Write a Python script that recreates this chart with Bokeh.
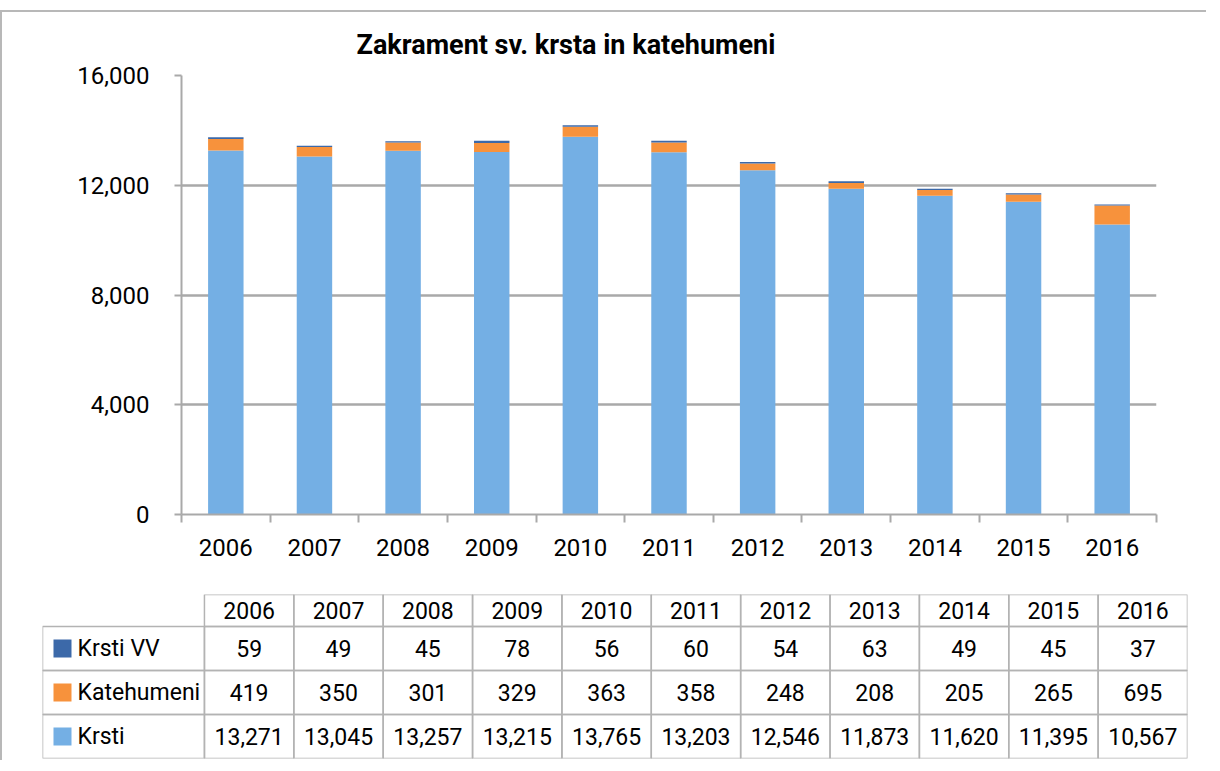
import numpy as np
from bokeh.plotting import figure
from bokeh.models import Range1d, FixedTicker, NumeralTickFormatter, ColumnDataSource
from bokeh.core.properties import value
from bokeh.embed import file_html
from bokeh.resources import INLINE

years = ["2006", "2007", "2008", "2009", "2010", "2011", "2012", "2013", "2014", "2015", "2016"]
krsti_vv = [59, 49, 45, 78, 56, 60, 54, 63, 49, 45, 37]
katehumeni = [419, 350, 301, 329, 363, 358, 248, 208, 205, 265, 695]
krsti = [13271, 13045, 13257, 13215, 13765, 13203, 12546, 11873, 11620, 11395, 10567]
series_names = ["Krsti VV", "Katehumeni", "Krsti"]
y_ticks = [0, 4000, 8000, 12000, 16000]
title_text = "Zakrament sv. krsta in katehumeni"

C_VV = "#3C69A9"
C_KAT = "#F7923C"
C_KR = "#74AFE4"
GRID = "#a9a9a9"
FONT = "Roboto"
BORDER = "2px solid #b8b8b8"

n = len(years)
xc = np.arange(n) + 0.5

# ---------------- chart ----------------
src = ColumnDataSource(dict(x=xc, krsti=krsti, kateh=katehumeni, vv=krsti_vv))

p1 = figure(output_backend="svg", toolbar_location=None,
            frame_width=975, frame_height=439,
            min_border_left=179, min_border_right=50, min_border_top=63, min_border_bottom=71,
            x_range=Range1d(0, n), y_range=Range1d(0, 16000),
            title=title_text,
            styles={"margin-top": "10px", "border-top": BORDER, "border-left": BORDER})
p1.outline_line_color = None
p1.background_fill_color = "white"
p1.border_fill_color = "white"
p1.title.text_font = FONT
p1.title.text_font_size = "27px"
p1.title.text_font_style = "bold"
p1.title.text_color = "black"
p1.title.align = "left"
p1.title.offset = 175
p1.title.standoff = 26
p1.title.vertical_align = "top"

p1.vbar_stack(["krsti", "kateh", "vv"], x="x", width=0.4, source=src,
              color=[C_KR, C_KAT, C_VV], line_color=None)

p1.xgrid.grid_line_color = None
p1.ygrid.grid_line_color = GRID
p1.ygrid.grid_line_width = 2.5
p1.ygrid.ticker = FixedTicker(ticks=y_ticks)

ya = p1.yaxis[0]
ya.ticker = FixedTicker(ticks=y_ticks)
ya.formatter = NumeralTickFormatter(format="0,0")
ya.axis_line_color = GRID
ya.axis_line_width = 2
ya.major_tick_line_color = GRID
ya.major_tick_line_width = 2
ya.major_tick_out = 7
ya.major_tick_in = 0
ya.minor_tick_line_color = None
ya.major_label_text_font = FONT
ya.major_label_text_font_size = "24px"
ya.major_label_text_color = "black"
ya.major_label_standoff = 25

xa = p1.xaxis[0]
xa.ticker = FixedTicker(ticks=list(xc), minor_ticks=list(np.arange(n + 1)))
xa.major_label_overrides = {float(x): y for x, y in zip(xc, years)}
xa.axis_line_color = GRID
xa.axis_line_width = 2
xa.major_tick_line_color = None
xa.major_tick_out = 0
xa.major_tick_in = 0
xa.minor_tick_line_color = GRID
xa.minor_tick_line_width = 2
xa.minor_tick_out = 8
xa.minor_tick_in = 0
xa.major_label_text_font = FONT
xa.major_label_text_font_size = "24px"
xa.major_label_text_color = "black"
xa.major_label_standoff = 16

# ---------------- data table ----------------
label_w = 162 / 89.4
head_h = 32 / 44
p2 = figure(output_backend="svg", toolbar_location=None,
            frame_width=1145, frame_height=164,
            min_border_left=40, min_border_right=19, min_border_top=9, min_border_bottom=2,
            x_range=Range1d(-label_w, n), y_range=Range1d(0, 3 + head_h),
            styles={"border-left": BORDER})
p2.axis.visible = False
p2.grid.visible = False
p2.outline_line_color = None
p2.border_fill_color = "white"

rows = [krsti, katehumeni, krsti_vv]  # bottom to top
row_names = ["Krsti", "Katehumeni", "Krsti VV"]
row_colors = [C_KR, C_KAT, C_VV]

cx, cy, cw, ch = [], [], [], []
for r in range(3):
    cx.append(-label_w / 2); cy.append(r + 0.5); cw.append(label_w); ch.append(1)
    for c in range(n):
        cx.append(c + 0.5); cy.append(r + 0.5); cw.append(1); ch.append(1)
for c in range(n):
    cx.append(c + 0.5); cy.append(3 + head_h / 2); cw.append(1); ch.append(head_h)
p2.rect(x=cx, y=cy, width=cw, height=ch, fill_color=None, line_color="#b3b3b3", line_width=1.5)

p2.text(x=list(xc), y=[3 + head_h / 2] * n, text=years,
        text_font=value(FONT), text_font_size="23px", text_align="center",
        text_baseline="middle", text_color="black")

tx, ty, tt = [], [], []
for r, vals in enumerate(rows):
    for c, v in enumerate(vals):
        tx.append(c + 0.5); ty.append(r + 0.5); tt.append(f"{v:,}")
p2.text(x=tx, y=ty, text=tt, text_font=value(FONT), text_font_size="23px",
        text_align="center", text_baseline="middle", text_color="black")

p2.scatter(x=[-label_w + 20 / 89.4] * 3, y=[0.5, 1.5, 2.5], marker="square", size=18,
           color=row_colors, line_color=None)
p2.text(x=[-label_w] * 3, y=[0.5, 1.5, 2.5], text=row_names, x_offset=35,
        text_font=value(FONT), text_font_size="23px", text_align="left",
        text_baseline="middle", text_color="black")

open("out.html", "w").write(file_html([p1, p2], INLINE))
